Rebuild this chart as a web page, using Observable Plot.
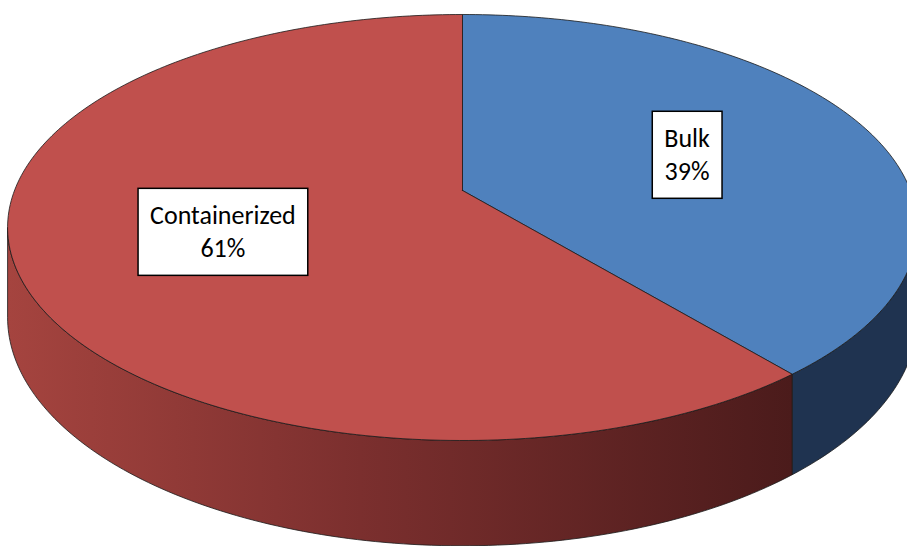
<!DOCTYPE html>
<html>
<head>
<meta charset="utf-8">
<script src="https://cdn.jsdelivr.net/npm/d3@7"></script>
<script src="https://cdn.jsdelivr.net/npm/@observablehq/plot@0.6"></script>
<style>
  html, body { margin: 0; padding: 0; background: #fff; }
  #chart { width: 907px; height: 546px; }
</style>
</head>
<body>
<div id="chart"></div>
<script>
// ---- data ----
const categories = ["Bulk", "Containerized"];
const shares = [39, 61];
const topColors = ["#4F81BD", "#C0504D"];
const sideColors = ["#1F3350", "url(#redSide)"];

// ---- 3D perspective projection of a unit disk ----
const W = 907, H = 546;
const CX = 462, CY = 227, A = 448, B = 213, C = -37, K = -0.1737, DEPTH = 87;
function proj(r, theta, z = 0) {
  const u = r * Math.sin(theta), v = -r * Math.cos(theta);
  const w = 1 + K * v;
  return [CX + A * u / w, CY + (B * v + C) / w + z * DEPTH / w];
}
const deg = Math.PI / 180;
const visLo = Math.acos(K);            // silhouette angles
const visHi = 2 * Math.PI - visLo;

const arcs = d3.pie().sort(null)(shares);

const tops = [], sides = [], labels = [];
arcs.forEach((a, i) => {
  const name = categories[i];
  const c = proj(0, 0);
  tops.push({name, x: c[0], y: c[1]});
  const n = Math.max(2, Math.ceil((a.endAngle - a.startAngle) / deg));
  for (let k = 0; k <= n; k++) {
    const t = a.startAngle + (a.endAngle - a.startAngle) * k / n;
    const p = proj(1, t);
    tops.push({name, x: p[0], y: p[1]});
  }
  tops.push({name, x: c[0], y: c[1]});
  const s0 = Math.max(a.startAngle, visLo), s1 = Math.min(a.endAngle, visHi);
  if (s1 > s0) {
    const m = Math.max(2, Math.ceil((s1 - s0) / deg));
    const pts = [];
    for (let k = 0; k <= m; k++) {
      const t = s0 + (s1 - s0) * k / m;
      const p = proj(1, t);
      pts.push({name, x: p[0], y: p[1]});
    }
    for (let k = m; k >= 0; k--) {
      const t = s0 + (s1 - s0) * k / m;
      const p = proj(1, t, 1);
      pts.push({name, x: p[0], y: p[1]});
    }
    pts.push(pts[0]);
    sides.push(...pts);
  }
  const mid = (a.startAngle + a.endAngle) / 2;
  const lp = proj(0.55, mid);
  labels.push({name, x: lp[0], y: lp[1], text: `${name}\n${shares[i]}%`});
});

const marks = [];
categories.forEach((name, i) => {
  marks.push(Plot.line(sides.filter(d => d.name === name), {
    x: "x", y: "y", fill: sideColors[i], stroke: "#1a1a1a", strokeWidth: 0.8, curve: "linear-closed"
  }));
});
categories.forEach((name, i) => {
  marks.push(Plot.line(tops.filter(d => d.name === name), {
    x: "x", y: "y", fill: topColors[i], stroke: "#1a1a1a", strokeWidth: 0.8, curve: "linear-closed"
  }));
});
marks.push(Plot.text(labels, {
  x: "x", y: "y", text: "text", fill: "#000", fontSize: 26, lineHeight: 1.27,
  fontFamily: "Carlito, Lato, sans-serif", className: "pielabel"
}));

const svg = Plot.plot({
  width: W, height: H, margin: 0,
  x: {domain: [0, W], range: [0, W], axis: null},
  y: {domain: [0, H], range: [0, H], axis: null},
  style: {background: "#fff"},
  marks
});
document.getElementById("chart").appendChild(svg);

// gradient for the red side
const NS = "http://www.w3.org/2000/svg";
const defs = document.createElementNS(NS, "defs");
const g = document.createElementNS(NS, "linearGradient");
g.setAttribute("id", "redSide");
g.setAttribute("gradientUnits", "userSpaceOnUse");
const gl = proj(1, visHi), gr = proj(1, arcs[0].endAngle);
g.setAttribute("x1", gl[0]); g.setAttribute("x2", gr[0]);
g.setAttribute("y1", 0); g.setAttribute("y2", 0);
[["0", "#A5443F"], ["0.45", "#7B2F2E"], ["1", "#4B1B1B"]].forEach(([o, c]) => {
  const s = document.createElementNS(NS, "stop");
  s.setAttribute("offset", o); s.setAttribute("stop-color", c);
  g.appendChild(s);
});
defs.appendChild(g);
svg.insertBefore(defs, svg.firstChild);

// white boxes behind labels
svg.querySelectorAll("g.pielabel text").forEach(t => {
  const bb = t.getBBox();
  const r = document.createElementNS(NS, "rect");
  const px = 12, py = 11;
  r.setAttribute("x", bb.x - px); r.setAttribute("y", bb.y - py);
  r.setAttribute("width", bb.width + 2 * px); r.setAttribute("height", bb.height + 2 * py);
  const tr = t.getAttribute("transform");
  if (tr) r.setAttribute("transform", tr);
  r.setAttribute("fill", "#fff"); r.setAttribute("stroke", "#000"); r.setAttribute("stroke-width", 1.5);
  t.parentNode.insertBefore(r, t);
});
</script>
</body>
</html>
